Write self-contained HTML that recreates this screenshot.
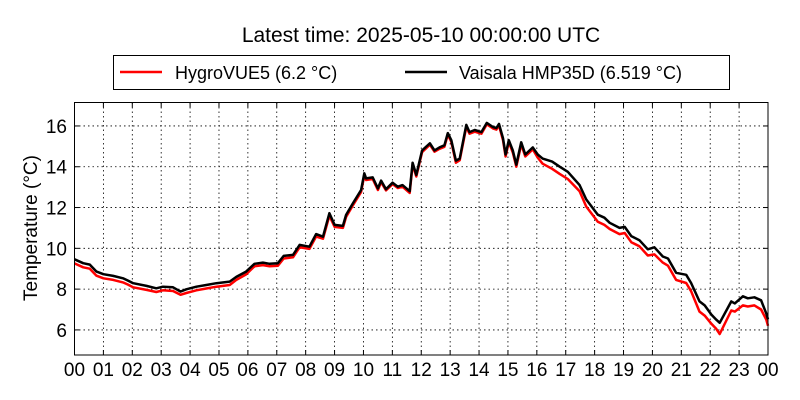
<!DOCTYPE html>
<html><head><meta charset="utf-8"><style>
html,body{margin:0;padding:0;background:#fff;}
svg{display:block;font-family:"Liberation Sans","DejaVu Sans",sans-serif;}
</style></head><body>
<svg id="chart" width="800" height="400" viewBox="0 0 800 400">
<rect width="800" height="400" fill="#fff"/>
<text x="421" y="42" font-size="21" text-anchor="middle">Latest time: 2025-05-10 00:00:00 UTC</text>
<g>
<rect x="113.5" y="55.5" width="616" height="34" fill="#fff" stroke="#000" stroke-width="1"/>
<g>
<line x1="120" y1="72" x2="162" y2="72" stroke="#f00" stroke-width="2.5"/>
<text x="175" y="79" font-size="18">HygroVUE5 (6.2 °C)</text>
</g>
<g>
<line x1="405" y1="72" x2="447" y2="72" stroke="#000" stroke-width="2.5"/>
<text x="459" y="79" font-size="18">Vaisala HMP35D (6.519 °C)</text>
</g>
</g>
<g id="grid"></g>
<g id="series"></g>
<rect x="74.5" y="102.5" width="693.5" height="252.5" fill="none" stroke="#000" stroke-width="1"/>
<g id="ticks"></g>
<text transform="translate(37,228) rotate(-90)" font-size="19" text-anchor="middle">Temperature (°C)</text>
</svg>
<script>
const hours = [0,0.3,0.53,0.76,1,1.34,1.68,1.85,2.03,2.49,
2.83,3.06,3.41,3.67,3.87,4.22,4.56,4.91,5.37,5.6,
5.94,6.23,6.52,6.75,7.04,7.24,7.56,7.79,8.13,8.36,
8.6,8.82,9.0,9.29,9.4,9.63,9.92,10.03,10.09,10.32,
10.5,10.61,10.78,11.01,11.19,11.35,11.6,11.7,11.83,12.03,
12.3,12.46,12.63,12.8,12.92,13.04,13.2,13.33,13.56,13.67,
13.85,14.08,14.27,14.48,14.6,14.69,14.83,14.92,15.03,15.17,
15.29,15.46,15.6,15.86,16.03,16.2,16.53,16.79,17.07,17.48,
17.71,18.11,18.34,18.52,18.86,19.04,19.27,19.55,19.84,20.07,
20.36,20.54,20.82,21.17,21.34,21.63,21.81,22.04,22.21,22.33,
22.73,22.85,23.13,23.3,23.53,23.76,23.94,24];
const vaisala = [9.46,9.27,9.2,8.86,8.73,8.65,8.53,8.42,8.29,8.16,
8.04,8.12,8.09,7.88,7.99,8.12,8.2,8.29,8.37,8.6,
8.86,9.24,9.3,9.24,9.27,9.63,9.68,10.17,10.08,10.7,
10.57,11.72,11.15,11.1,11.64,12.2,12.86,13.68,13.43,13.48,
12.94,13.32,12.9,13.22,13.02,13.1,12.8,14.2,13.6,14.8,
15.15,14.8,14.95,15.05,15.65,15.3,14.3,14.4,16.05,15.7,
15.8,15.7,16.15,15.95,15.9,16.1,15.4,14.6,15.3,14.8,
14.1,15.2,14.6,14.95,14.6,14.4,14.25,14.0,13.75,13.1,
12.4,11.65,11.5,11.25,11.0,11.05,10.6,10.4,9.95,10.05,
9.6,9.5,8.8,8.7,8.3,7.4,7.2,6.75,6.5,6.35,
7.4,7.3,7.65,7.55,7.6,7.45,6.8,6.52];
const hygrovue = [9.26,9.07,9.0,8.66,8.53,8.45,8.33,8.22,8.09,7.96,
7.86,7.94,7.91,7.72,7.81,7.94,8.03,8.12,8.2,8.45,
8.72,9.12,9.18,9.12,9.15,9.5,9.56,10.05,9.97,10.58,
10.47,11.6,11.05,11.0,11.54,12.1,12.76,13.58,13.35,13.4,
12.86,13.24,12.84,13.15,12.96,13.02,12.72,14.1,13.52,14.72,
15.08,14.74,14.88,14.98,15.58,15.22,14.2,14.32,15.95,15.62,
15.72,15.62,16.08,15.88,15.82,16.02,15.3,14.5,15.22,14.7,
14.0,15.1,14.5,14.85,14.45,14.15,13.9,13.65,13.4,12.8,
12.05,11.3,11.15,10.95,10.7,10.75,10.3,10.1,9.65,9.7,
9.3,9.15,8.45,8.3,7.9,6.9,6.7,6.3,6.05,5.8,
6.95,6.9,7.2,7.15,7.2,7.0,6.5,6.2];
const xTickLabels = ["00","01","02","03","04","05","06","07","08","09","10","11","12","13","14","15","16","17","18","19","20","21","22","23","00"];
const yTicks = [6,8,10,12,14,16];

const X0=74.5, X1=768, Y0=355, Y1=102.5, YMIN=4.77, YMAX=17.15;
const xs = h => X0 + h/24*(X1-X0);
const ys = v => Y0 - (v-YMIN)/(YMAX-YMIN)*(Y0-Y1);
const NS="http://www.w3.org/2000/svg";
const grid=document.getElementById('grid'), ticks=document.getElementById('ticks'), series=document.getElementById('series');
function mk(tag,attrs,parent){const e=document.createElementNS(NS,tag);for(const k in attrs)e.setAttribute(k,attrs[k]);parent.appendChild(e);return e;}

xTickLabels.forEach((lab,i)=>{
  const x=xs(i);
  if(i>0&&i<24){
    const g=mk('line',{x1:x,x2:x,y1:Y1,y2:Y0,stroke:'#000','stroke-width':0.8,'stroke-dasharray':'1.5,3'},grid);
    
    
  }
  mk('line',{x1:x,x2:x,y1:Y0,y2:Y0-5,stroke:'#000','stroke-width':1},ticks);
  mk('line',{x1:x,x2:x,y1:Y1,y2:Y1+5,stroke:'#000','stroke-width':1},ticks);
  const t=mk('text',{x:x,y:376,'font-size':19,'text-anchor':'middle'},ticks);
  t.textContent=lab;
  
  
});
yTicks.forEach(v=>{
  const y=ys(v);
  const g=mk('line',{x1:X0,x2:X1,y1:y,y2:y,stroke:'#000','stroke-width':0.8,'stroke-dasharray':'1.5,3'},grid);
  
  
  mk('line',{x1:X0,x2:X0+5,y1:y,y2:y,stroke:'#000','stroke-width':1},ticks);
  mk('line',{x1:X1,x2:X1-5,y1:y,y2:y,stroke:'#000','stroke-width':1},ticks);
  const t=mk('text',{x:67,y:y+7,'font-size':19,'text-anchor':'end'},ticks);
  t.textContent=v;
  
  
});
function line(vals,color,name){
  const d=vals.map((v,i)=>(i?'L':'M')+xs(hours[i]).toFixed(1)+','+ys(v).toFixed(1)).join('');
  const p=mk('path',{d:d,fill:'none',stroke:color,'stroke-width':2.5,'stroke-linejoin':'round'},series);
  
  
}
line(hygrovue,'#f00','hygrovue5-line');
line(vaisala,'#000','vaisala-line');
</script>
</body></html>
